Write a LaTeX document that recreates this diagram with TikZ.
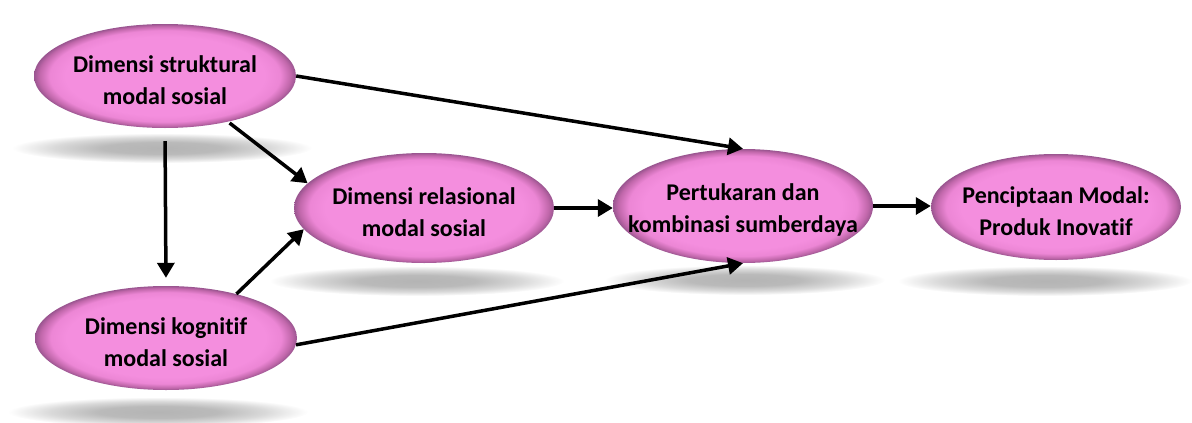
\documentclass[tikz,border=0pt]{standalone}
\usepackage{fontspec}
\setmainfont{Carlito}[Ligatures=NoCommon]
\usetikzlibrary{shapes.geometric,arrows.meta}

\definecolor{pinkcore}{HTML}{F48EDE}
\definecolor{pinkmid}{HTML}{EC86D5}
\definecolor{pinkrim}{HTML}{C067AA}
\definecolor{pinkedge}{HTML}{9A5590}
\definecolor{shadowgray}{HTML}{B4B4B4}

% bevelled pink fill for the ellipses (path box maps to the inner 25bp radius)
\pgfdeclareradialshading{bevel}{\pgfpoint{0bp}{0bp}}{%
  color(0bp)=(pinkcore); color(19bp)=(pinkcore); color(22bp)=(pinkmid);
  color(24bp)=(pinkrim); color(25bp)=(pinkedge); color(50bp)=(pinkedge)}
% soft grey cast shadow
\pgfdeclareradialshading{castshadow}{\pgfpoint{0bp}{0bp}}{%
  color(0bp)=(shadowgray); color(10bp)=(shadowgray!92); color(18bp)=(shadowgray!50);
  color(25bp)=(white); color(50bp)=(white)}

\tikzset{
  blob/.style={ellipse, inner sep=0pt, shading=bevel, minimum width=#1},
  blob/.default=260pt,
  label text/.style={font=\bfseries\fontsize{24}{32}\selectfont, align=center,
    text=black, yshift=-4pt},
  shadowband/.style={ellipse, inner sep=0pt, shading=castshadow, minimum height=30pt},
  link/.style={line width=3.5pt, -{Triangle[length=15pt,width=17pt]}},
}

\begin{document}
\begin{tikzpicture}[x=1pt,y=-1pt]
  \useasboundingbox (0,0) rectangle (1192,423);

  % shadows under the ellipses
  \node[shadowband, minimum width=300pt] (sh1) at (162,148) {};
  \node[shadowband, minimum width=295pt] (sh2) at (417,281) {};
  \node[shadowband, minimum width=280pt] (sh3) at (745,280) {};
  \node[shadowband, minimum width=295pt] (sh4) at (1045,281) {};
  \node[shadowband, minimum width=300pt] (sh5) at (158,412) {};

  % ellipses
  \node[blob=262pt, minimum height=104pt] (s) at (165,76) {};
  \node[blob=260pt, minimum height=110pt] (r) at (424,208) {};
  \node[blob=260pt, minimum height=114pt] (p) at (743,206) {};
  \node[blob=250pt, minimum height=106pt] (c) at (1056,207) {};
  \node[blob=262pt, minimum height=104pt] (k) at (166,338) {};

  % labels
  \node[label text] (st) at (s) {Dimensi struktural\\modal sosial};
  \node[label text] (rt) at (r) {Dimensi relasional\\modal sosial};
  \node[label text] (pt) at (p) {Pertukaran dan\\kombinasi sumberdaya};
  \node[label text] (ct) at (c) {Penciptaan Modal:\\Produk Inovatif};
  \node[label text] (kt) at (k) {Dimensi kognitif\\modal sosial};

  % connectors
  \draw[link] (s.east) -- (p.north);
  \draw[link, shorten <=2pt] (s.-36) -- (r.168);
  \draw[link, shorten <=13pt, shorten >=8pt] (s.south) -- (k.north);
  \draw[link] (k.32) -- (r.190);
  \draw[link] (k.-3) -- (p.south);
  \draw[link] (r.east) -- (r.east -| p.west);
  \draw[link] (p.east) -- (p.east -| c.west);
\end{tikzpicture}
\end{document}
